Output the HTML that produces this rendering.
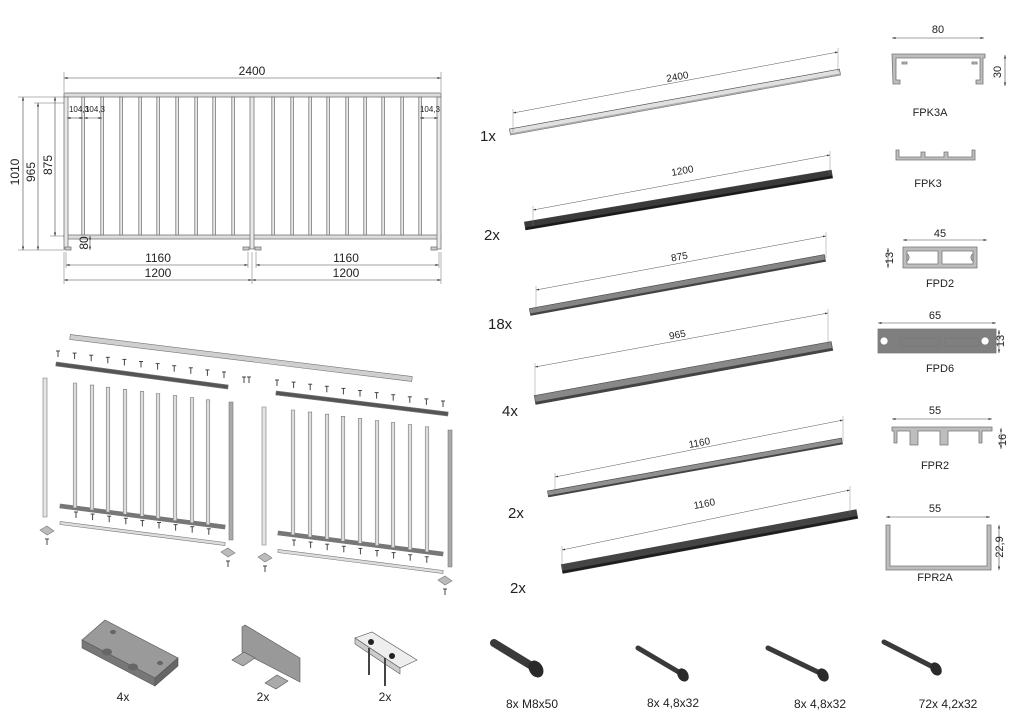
<!DOCTYPE html>
<html><head><meta charset="utf-8">
<style>
html,body{margin:0;padding:0;background:#fff;}
svg{display:block;}
text{font-family:"Liberation Sans Narrow","Liberation Sans",sans-serif;fill:#222;}
</style></head>
<body>
<svg id="s" width="1024" height="724" viewBox="0 0 1024 724" xmlns="http://www.w3.org/2000/svg">
<defs>
<marker id="a" viewBox="0 0 10 10" refX="10" refY="5" markerWidth="6" markerHeight="6" orient="auto-start-reverse"><path d="M0,2 L10,5 L0,8 z" fill="#333"/></marker>
</defs>
<g id="front" stroke="#777" stroke-width="0.8" fill="#e8e8e8"></g>
<g id="dims" stroke="#444" stroke-width="0.6" fill="none"></g>
<g id="expl" stroke="#777" stroke-width="0.6"></g>
<g id="parts"></g>
<g id="prof" fill="#bdbdbd" stroke="#777" stroke-width="0.8"></g>
<g id="hw"></g>

<text x="252" y="75" font-size="12" text-anchor="middle">2400</text>
<text x="79" y="112" font-size="8" text-anchor="middle">104,3</text>
<text x="95" y="112" font-size="8" text-anchor="middle">104,3</text>
<text x="430" y="112" font-size="8" text-anchor="middle">104,3</text>
<text transform="translate(19,172) rotate(-90)" font-size="12" text-anchor="middle">1010</text>
<text transform="translate(35,172) rotate(-90)" font-size="12" text-anchor="middle">965</text>
<text transform="translate(52,165) rotate(-90)" font-size="12" text-anchor="middle">875</text>
<text transform="translate(88,243) rotate(-90)" font-size="12" text-anchor="middle">80</text>
<text x="158" y="262" font-size="12" text-anchor="middle">1160</text>
<text x="346" y="262" font-size="12" text-anchor="middle">1160</text>
<text x="158" y="277" font-size="12" text-anchor="middle">1200</text>
<text x="346" y="277" font-size="12" text-anchor="middle">1200</text>

<text x="480" y="141" font-size="15">1x</text>
<text x="484" y="240" font-size="15">2x</text>
<text x="488" y="329" font-size="15">18x</text>
<text x="502" y="416" font-size="15">4x</text>
<text x="508" y="518" font-size="15">2x</text>
<text x="510" y="593" font-size="15">2x</text>
<text transform="translate(678,80) rotate(-10.5)" font-size="10" text-anchor="middle">2400</text>
<text transform="translate(683,174) rotate(-10.5)" font-size="10" text-anchor="middle">1200</text>
<text transform="translate(680,260) rotate(-10.5)" font-size="10" text-anchor="middle">875</text>
<text transform="translate(678,338) rotate(-10.5)" font-size="10" text-anchor="middle">965</text>
<text transform="translate(700,446) rotate(-10.5)" font-size="10" text-anchor="middle">1160</text>
<text transform="translate(705,507) rotate(-10.5)" font-size="10" text-anchor="middle">1160</text>

<text x="938" y="33" font-size="11" text-anchor="middle">80</text>
<text transform="translate(1001,72) rotate(-90)" font-size="11" text-anchor="middle">30</text>
<text x="930" y="116" font-size="11" text-anchor="middle">FPK3A</text>
<text x="928" y="187" font-size="11" text-anchor="middle">FPK3</text>
<text x="940" y="237" font-size="11" text-anchor="middle">45</text>
<text transform="translate(893,258) rotate(-90)" font-size="11" text-anchor="middle">13</text>
<text x="940" y="287" font-size="11" text-anchor="middle">FPD2</text>
<text x="935" y="319" font-size="11" text-anchor="middle">65</text>
<text transform="translate(1004,341) rotate(-90)" font-size="11" text-anchor="middle">13</text>
<text x="940" y="372" font-size="11" text-anchor="middle">FPD6</text>
<text x="935" y="414" font-size="11" text-anchor="middle">55</text>
<text transform="translate(1006,440) rotate(-90)" font-size="11" text-anchor="middle">16</text>
<text x="935" y="469" font-size="11" text-anchor="middle">FPR2</text>
<text x="935" y="512" font-size="11" text-anchor="middle">55</text>
<text transform="translate(1003,547) rotate(-90)" font-size="11" text-anchor="middle">22,9</text>
<text x="935" y="581" font-size="11" text-anchor="middle">FPR2A</text>

<text x="123" y="701" font-size="12" text-anchor="middle">4x</text>
<text x="263" y="701" font-size="12" text-anchor="middle">2x</text>
<text x="385" y="701" font-size="12" text-anchor="middle">2x</text>
<text x="532" y="708" font-size="12" text-anchor="middle">8x M8x50</text>
<text x="673" y="707" font-size="12" text-anchor="middle">8x 4,8x32</text>
<text x="820" y="708" font-size="12" text-anchor="middle">8x 4,8x32</text>
<text x="948" y="708" font-size="12" text-anchor="middle">72x 4,2x32</text>
</svg>
<script>
var NS="http://www.w3.org/2000/svg";
function el(p,t,a){var e=document.createElementNS(NS,t);for(var k in a)e.setAttribute(k,a[k]);document.getElementById(p).appendChild(e);return e;}
el('front','rect',{x:64,y:93,width:377,height:4,fill:'#ddd'});
el('front','rect',{x:64,y:235,width:377,height:4,fill:'#ddd'});
[64,250,437].forEach(function(x){el('front','rect',{x:x,y:97,width:4,height:152});});
[83,102,121,140,158,177,196,214,233,273,292,310,328,347,365,383,402,420].forEach(function(x){el('front','rect',{x:x-1.2,y:97,width:2.6,height:138});});
[[68,249],[246,249],[258,249],[434,249]].forEach(function(p){el('front','rect',{x:p[0]-3,y:p[1]-2,width:6,height:3,fill:'#ccc'});});
function dl(x1,y1,x2,y2){el('dims','line',{x1:x1,y1:y1,x2:x2,y2:y2,'marker-start':'url(#a)','marker-end':'url(#a)'});}
function ln(x1,y1,x2,y2){el('dims','line',{x1:x1,y1:y1,x2:x2,y2:y2,'stroke-width':0.4});}
dl(64,78,441,78);ln(64,72,64,92);ln(441,72,441,92);
dl(23,97,23,250);ln(18,97,64,97);ln(18,250,64,250);
dl(38,103,38,250);ln(34,103,64,103);
dl(55,97,55,236);ln(50,236,64,236);
dl(67,118,83,118);dl(84,118,102,118);dl(420,118,438,118);
dl(90,236,90,250);
dl(66,265,248,265);dl(256,265,439,265);ln(66,252,66,268);ln(439,252,439,268);ln(248,252,248,268);ln(256,252,256,268);
dl(64,280,252,280);dl(252,280,441,280);ln(64,252,64,284);ln(441,252,441,284);ln(252,252,252,284);
function bar(x1,y1,x2,y2,w,f){var dx=x2-x1,dy=y2-y1,L=Math.hypot(dx,dy),nx=-dy/L*w/2,ny=dx/L*w/2;
 return el('expl','polygon',{points:[x1+nx,y1+ny,x2+nx,y2+ny,x2-nx,y2-ny,x1-nx,y1-ny].join(','),fill:f});}
bar(70,337,412,379,5,'#cfcfcf');
bar(56,364,228,387,4,'#555');
bar(276,393,448,414,4,'#555');
bar(60,506,225,527,4,'#777');
bar(60,523,225,544,3,'#ddd');
bar(278,533,443,554,4,'#777');
bar(278,551,443,572,3,'#ddd');
bar(45,378,45,517,4,'#e5e5e5');
bar(231,402,231,540,4,'#aaa');
bar(264,407,264,545,4,'#e5e5e5');
bar(450,430,450,567,4,'#aaa');
var lx=[75,92,108,125,142,158,175,192,208];
lx.forEach(function(x,i){var t=383+i*2.1,b=506+(x-60)*21/165;bar(x,t,x,b,3.5,'#ddd');});
var rx=[293,310,327,343,360,377,393,410,427];
rx.forEach(function(x,i){var t=410+i*2.1,b=533+(x-278)*21/165;bar(x,t,x,b,3.5,'#ddd');});
function scr(x,y){el('expl','line',{x1:x,y1:y,x2:x,y2:y+6,stroke:'#444','stroke-width':1});el('expl','line',{x1:x-2,y1:y,x2:x+2,y2:y,stroke:'#444','stroke-width':1});}
for(var i=0;i<11;i++){scr(58+i*16.6,351+i*2.1);}
for(var i=0;i<11;i++){scr(277+i*16.6,380+i*2.1);}
for(var i=0;i<9;i++){scr(76+i*16.6,512+i*2.1);}
for(var i=0;i<9;i++){scr(294+i*16.6,540+i*2.1);}
scr(244,377);scr(249,377);
[[47,530],[228,552],[265,557],[445,580]].forEach(function(p){el('expl','polygon',{points:[p[0]-7,p[1],p[0],p[1]-4,p[0]+7,p[1]+1,p[0],p[1]+5].join(','),fill:'#bbb'});scr(p[0],p[1]+9);});
function part(x1,y1,x2,y2,w,f,f2,d1,d2){var g='parts';
 var dx=x2-x1,dy=y2-y1,L=Math.hypot(dx,dy),nx=-dy/L*w/2,ny=dx/L*w/2;
 el(g,'polygon',{points:[x1+nx,y1+ny,x2+nx,y2+ny,x2-nx,y2-ny,x1-nx,y1-ny].join(','),fill:f,stroke:'#444','stroke-width':0.6});
 el(g,'polygon',{points:[x1+nx,y1+ny,x2+nx,y2+ny,x2+nx*0.3,y2+ny*0.3+0.5,x1+nx*0.3,y1+ny*0.3+0.5].join(','),fill:f2,stroke:'none'});
 el(g,'line',{x1:d1[0],y1:d1[1],x2:d2[0],y2:d2[1],stroke:'#555','stroke-width':0.5,'marker-start':'url(#a)','marker-end':'url(#a)'});
 el(g,'line',{x1:d1[0],y1:d1[1]-4,x2:d1[0],y2:y1,stroke:'#777','stroke-width':0.4});
 el(g,'line',{x1:d2[0],y1:d2[1]-4,x2:d2[0],y2:y2,stroke:'#777','stroke-width':0.4});}
part(510,132,840,72,6,'#e0e0e0','#aaa',[513,113],[838,52]);
part(525,226,832,174,8,'#3a3a3a','#1a1a1a',[533,210],[830,155]);
part(530,312,825,258,7,'#858585','#444',[536,290],[826,236]);
part(535,400,832,346,9,'#888','#444',[535,367],[828,313]);
part(548,494,842,441,6,'#909090','#444',[555,477],[843,420]);
part(562,569,857,514,9,'#444','#1e1e1e',[562,550],[850,490]);
function P(d,f){el('prof','path',{d:d,fill:f||'#bdbdbd'});}
function pd(x1,y1,x2,y2){el('prof','line',{x1:x1,y1:y1,x2:x2,y2:y2,stroke:'#444','stroke-width':0.6,'marker-start':'url(#a)','marker-end':'url(#a)'});}
pd(892,38,984,38);pd(1005,55,1005,86);
P('M892,54 H985 V58 H983 V84 H976 V80 H980 V58 H896 V80 H900 V84 H893 Z');
P('M902,62 h5 v2 h-5z M972,62 h5 v2 h-5z');
P('M896,150 V160 H975 V150 H972 V157 H948 V152 H944 V157 H925 V152 H921 V157 H899 V150 Z');
pd(903,240,987,240);pd(888,248,888,268);
P('M903,247 H977 V268 H903 Z M907,251 V264 H938 V251 Z M942,251 V264 H973 V251 Z');
P('M907,254 a4,4 0 0 1 0,7z M973,254 a4,4 0 0 0 0,7z');
pd(878,323,996,323);pd(999,330,999,353);
P('M878,329 H996 V353 H878 Z M884,337 a4,4 0 1 0 0.1,0 z M985,337 a4,4 0 1 0 0.1,0z M900,338 h40 v8 h-40z M945,338 h34 v8 h-34z','#7f7f7f');
pd(892,419,992,419);pd(1001,428,1001,449);
P('M892,427 H992 V431 H982 V443 H979 V431 H948 V445 H940 V431 H918 V445 H910 V431 H897 V443 H894 V431 H892 Z');
pd(886,517,990,517);pd(999,525,999,570);
P('M886,525 H890 V566 H987 V525 H991 V570 H886 Z');
function H(d,f){el('hw','path',{d:d,fill:f,stroke:'#555','stroke-width':0.6});}
H('M82,640 L105,620 L178,658 L155,678 Z','#9a9a9a');
H('M82,640 L155,678 L155,686 L82,648 Z','#777');
H('M155,678 L178,658 L178,666 L155,686 Z','#666');
[[113,632,3],[107,652,5],[133,667,5],[160,663,3]].forEach(function(c){el('hw','ellipse',{cx:c[0],cy:c[1],rx:c[2],ry:c[2]*0.7,fill:'#666'});});
H('M242,627 L245,625 L300,658 L300,682 L242,652 Z','#999');
H('M232,660 L244,652 L255,658 L243,666 Z','#aaa');
H('M265,683 L277,675 L288,681 L276,689 Z','#aaa');
H('M355,638 L372,632 L417,660 L400,668 Z','#eee');
H('M355,638 L400,668 L400,674 L355,644 Z','#ccc');
el('hw','circle',{cx:371,cy:642,r:3,fill:'#222'});el('hw','circle',{cx:392,cy:656,r:3,fill:'#222'});
el('hw','line',{x1:369,y1:648,x2:369,y2:675,stroke:'#444','stroke-width':2});
el('hw','line',{x1:385,y1:658,x2:385,y2:686,stroke:'#444','stroke-width':2});
function screw(x1,y1,x2,y2,w,hr){el('hw','line',{x1:x1,y1:y1,x2:x2,y2:y2,stroke:'#3a3a3a','stroke-width':w,'stroke-linecap':'round'});
 el('hw','ellipse',{cx:x2+1,cy:y2+1,rx:hr*0.75,ry:hr,fill:'#2a2a2a',transform:'rotate(-32 '+(x2+1)+' '+(y2+1)+')'});}
screw(494,643,535,668,8,9);
screw(638,648,682,674,5,7);
screw(768,648,822,674,5,7);
screw(884,642,935,668,5,7);
</script>
</body></html>
